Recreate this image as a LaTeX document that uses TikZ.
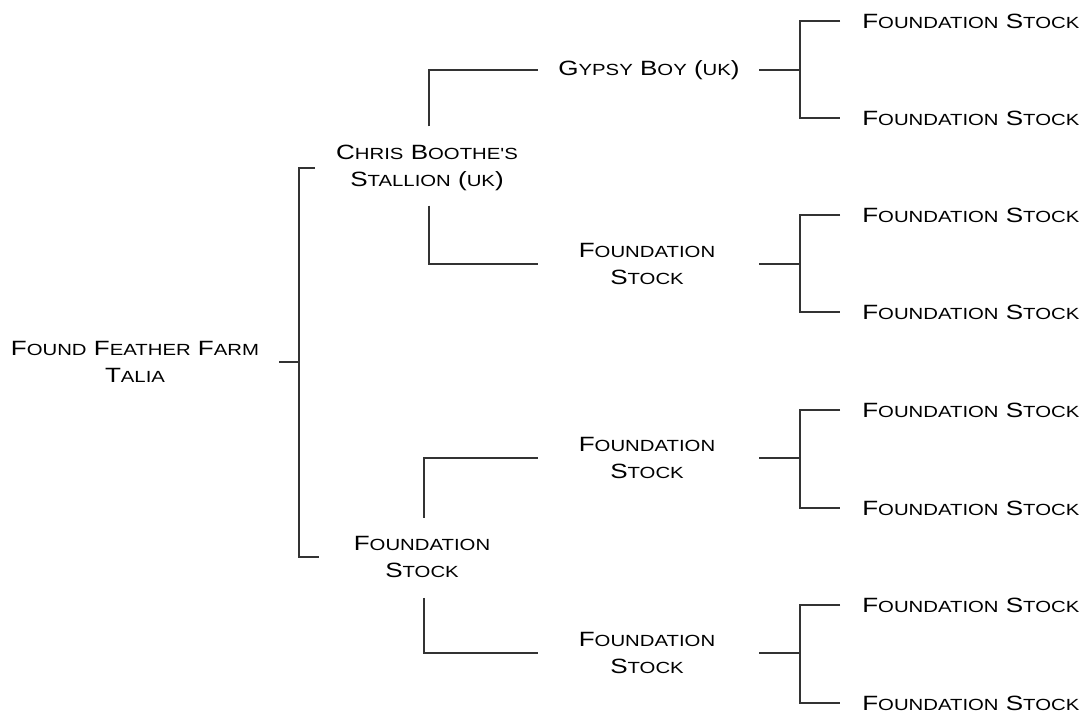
\documentclass[tikz,border=0pt]{standalone}
\usepackage{fontspec}
\newfontfamily\cpfont[FakeStretch=1.26]{Liberation Sans}
\newcommand\smc[1]{{\fontsize{12.1pt}{20pt}\selectfont #1}}
\tikzset{
  person/.style={font=\cpfont\fontsize{15.5pt}{20pt}\selectfont, align=center, inner sep=0pt, text=black},
  leaf/.style={person, anchor=west},
  link/.style={draw=black!80, line width=1.2pt}
}
\begin{document}
\begin{tikzpicture}[x=0.75pt, y=-0.75pt]
\useasboundingbox[fill=white] (0,0) rectangle (1088,713);
% columns for connector joints
\coordinate (x0) at (299,0);
\coordinate (x1) at (538,0);
\coordinate (x2a) at (759,0);
\coordinate (x2) at (800,0);
\coordinate (x3) at (840,0);
% root
\node[person] (root) at (135,362) {F\smc{OUND} F\smc{EATHER} F\smc{ARM}\\T\smc{ALIA}};
% generation 1
\node[person] (c1) at (427,168) {C\smc{HRIS} B\smc{OOTHE'S}\\S\smc{TALLION} (\smc{UK})};
\node[person] (c2) at (422,557) {F\smc{OUNDATION}\\S\smc{TOCK}};
% generation 2
\node[person] (g1) at (649,70) {G\smc{YPSY} B\smc{OY} (\smc{UK})};
\node[person] (g2) at (647,264) {F\smc{OUNDATION}\\S\smc{TOCK}};
\node[person] (g3) at (647,458) {F\smc{OUNDATION}\\S\smc{TOCK}};
\node[person] (g4) at (647,653) {F\smc{OUNDATION}\\S\smc{TOCK}};
% generation 3
\node[leaf] (h1) at (862,21)  {F\smc{OUNDATION} S\smc{TOCK}};
\node[leaf] (h2) at (862,118) {F\smc{OUNDATION} S\smc{TOCK}};
\node[leaf] (h3) at (862,215) {F\smc{OUNDATION} S\smc{TOCK}};
\node[leaf] (h4) at (862,312) {F\smc{OUNDATION} S\smc{TOCK}};
\node[leaf] (h5) at (862,410) {F\smc{OUNDATION} S\smc{TOCK}};
\node[leaf] (h6) at (862,508) {F\smc{OUNDATION} S\smc{TOCK}};
\node[leaf] (h7) at (862,605) {F\smc{OUNDATION} S\smc{TOCK}};
\node[leaf] (h8) at (862,703) {F\smc{OUNDATION} S\smc{TOCK}};
% root to generation 1
\draw[link] ([xshift=15pt]root.east) -- (root -| x0);
\draw[link] ([xshift=-15.75pt]c1.west) -| (x0 |- c2) -- ([xshift=-26.25pt]c2.west);
% generation 1 to generation 2
\draw[link] ([xshift=1.5pt,yshift=14pt]c1.north) |- (g1 -| x1);
\draw[link] ([xshift=1.5pt,yshift=-11pt]c1.south) |- (g2 -| x1);
\draw[link] ([xshift=1.5pt,yshift=14pt]c2.north) |- (g3 -| x1);
\draw[link] ([xshift=1.5pt,yshift=-15pt]c2.south) |- (g4 -| x1);
% generation 2 to generation 3
\foreach \g/\a/\b in {g1/h1/h2, g2/h3/h4, g3/h5/h6, g4/h7/h8}{
  \draw[link] (\g -| x2a) -- (\g -| x2);
  \draw[link] (\a -| x3) -| (\b -| x2) -- (\b -| x3);
}
\end{tikzpicture}
\end{document}
